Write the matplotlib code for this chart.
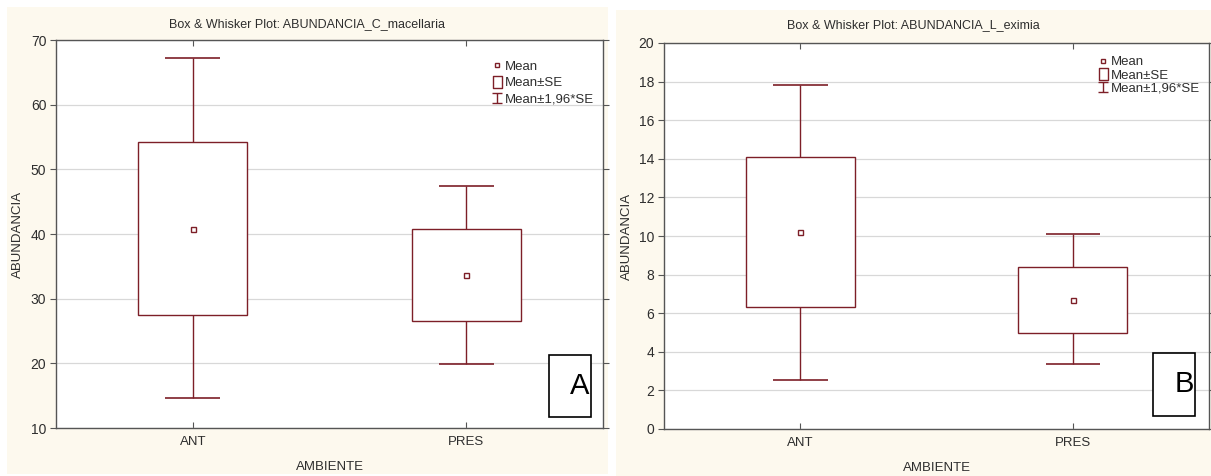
import matplotlib
matplotlib.use("Agg")
import matplotlib.pyplot as plt
from matplotlib.patches import Rectangle
from matplotlib.lines import Line2D
from matplotlib.path import Path
import numpy as np

# ---- data ----
categories = ["ANT", "PRES"]

a_title = "Box & Whisker Plot: ABUNDANCIA_C_macellaria"
a_mean = [40.8, 33.6]
a_se_lo = [27.5, 26.6]
a_se_hi = [54.2, 40.8]
a_ci_lo = [14.6, 19.9]
a_ci_hi = [67.2, 47.4]
a_yticks = [10, 20, 30, 40, 50, 60, 70]

b_title = "Box & Whisker Plot: ABUNDANCIA_L_eximia"
b_mean = [10.2, 6.7]
b_se_lo = [6.3, 5.0]
b_se_hi = [14.1, 8.4]
b_ci_lo = [2.55, 3.35]
b_ci_hi = [17.83, 10.1]
b_yticks = [0, 2, 4, 6, 8, 10, 12, 14, 16, 18, 20]

legend_labels = ["Mean", "Mean\u00b1SE", "Mean\u00b11,96*SE"]
xlabel = "AMBIENTE"
ylabel = "ABUNDANCIA"
panel_letters = ["A", "B"]

# ---- style ----
FONT = ["Liberation Sans", "DejaVu Sans"]
plt.rcParams["font.family"] = FONT
MAROON = "#7d1f28"
CREAM = "#fdf9ee"
SPINE = "#555555"
TXT = "#2e2e2e"

W, H = 1211, 476
fig = plt.figure(figsize=(W / 100, H / 100), dpi=100)
fig.patch.set_facecolor("white")


def fx(px):
    return px / W


def fy(py):
    return 1 - py / H


# panel backgrounds (cream)
fig.patches.append(Rectangle((fx(7), fy(474)), fx(608 - 7), (474 - 7) / H,
                             transform=fig.transFigure, facecolor=CREAM,
                             edgecolor="none", zorder=-10))
fig.patches.append(Rectangle((fx(616), fy(476)), fx(1211 - 616), (476 - 10) / H,
                             transform=fig.transFigure, facecolor=CREAM,
                             edgecolor="none", zorder=-10))

ibeam = Path([(-0.45, 0.5), (0.45, 0.5), (0, 0.5), (0, -0.5), (-0.45, -0.5), (0.45, -0.5)],
             [Path.MOVETO, Path.LINETO, Path.MOVETO, Path.LINETO,
              Path.MOVETO, Path.LINETO])
tallbox = Path([(-0.36, -0.5), (0.36, -0.5), (0.36, 0.5), (-0.36, 0.5), (-0.36, -0.5)],
               [Path.MOVETO, Path.LINETO, Path.LINETO, Path.LINETO, Path.CLOSEPOLY])


def draw_panel(rect, title, title_x, title_y, mean, se_lo, se_hi, ci_lo, ci_hi,
               yticks, letter, letter_box, ylabel_x, legend_y, legend_sp):
    ax = fig.add_axes(rect)
    ax.set_facecolor("white")
    x = np.arange(len(categories))
    se_lo = np.array(se_lo); se_hi = np.array(se_hi)
    ax.bar(x, se_hi - se_lo, bottom=se_lo, width=0.4, facecolor="white",
           edgecolor=MAROON, linewidth=1.0, zorder=3)
    ax.vlines(x, se_hi, ci_hi, color=MAROON, lw=1.0, zorder=3)
    ax.vlines(x, ci_lo, se_lo, color=MAROON, lw=1.0, zorder=3)
    ax.hlines(ci_hi, x - 0.1, x + 0.1, color=MAROON, lw=1.2, zorder=3)
    ax.hlines(ci_lo, x - 0.1, x + 0.1, color=MAROON, lw=1.2, zorder=3)
    ax.plot(x, mean, ls="none", marker="s", ms=3.6, mfc="white", mec=MAROON,
            mew=1.0, zorder=4)

    ax.set_xlim(-0.5, 1.5)
    ax.set_ylim(yticks[0], yticks[-1])
    ax.set_yticks(yticks)
    ax.set_xticks(x)
    ax.set_xticklabels(categories)
    ax.grid(axis="y", color="#d8d8d8", lw=0.9)
    ax.set_axisbelow(True)
    for s in ax.spines.values():
        s.set_color(SPINE)
        s.set_linewidth(1.0)
    ax.tick_params(axis="x", direction="in", top=True, length=4, color=SPINE,
                   labelsize=9.5, labelcolor=TXT, pad=6)
    ax.tick_params(axis="y", direction="out", right=True, length=4, color=SPINE,
                   labelsize=10, labelcolor=TXT, pad=3)

    ax.set_xlabel(xlabel, fontsize=9.5, color=TXT, labelpad=9)
    ax.set_ylabel(ylabel, fontsize=9.5, color=TXT)
    ax.yaxis.set_label_coords(ylabel_x, 0.5)

    fig.text(title_x, title_y, title, ha="center", va="center", fontsize=9,
             color=TXT)

    handles = [
        Line2D([], [], ls="none", marker="s", ms=3.2, mfc="white", mec=MAROON, mew=1.0),
        Line2D([], [], ls="none", marker=tallbox, ms=9, mfc="white", mec=MAROON, mew=1.0),
        Line2D([], [], ls="none", marker=ibeam, ms=7.5, color=MAROON, mew=1.0),
    ]
    ax.legend(handles, legend_labels, loc="upper right",
              bbox_to_anchor=(1.0, legend_y), frameon=False, fontsize=9.5,
              handlelength=0.8, handletextpad=0.15, labelspacing=legend_sp,
              borderaxespad=0.3, labelcolor=TXT)

    bx0, by0, bx1, by1 = letter_box
    ax.add_patch(Rectangle((bx0, by0), bx1 - bx0, by1 - by0,
                           transform=ax.transAxes, facecolor="white",
                           edgecolor="black", lw=1.2, zorder=6))
    ax.text(bx1 - 0.003, (by0 + by1) / 2, letter, transform=ax.transAxes,
            ha="right", va="center", fontsize=21, color="black", zorder=7)
    return ax


axA = draw_panel([fx(56), fy(428), fx(603 - 56), (428 - 40) / H],
                 a_title, fx(307.5), fy(24), a_mean, a_se_lo, a_se_hi,
                 a_ci_lo, a_ci_hi, a_yticks, panel_letters[0],
                 (0.901, 0.028, 0.978, 0.188), -0.0585, 0.97, 0.3)
axB = draw_panel([fx(664), fy(429), fx(1209 - 664), (429 - 43) / H],
                 b_title, fx(913.5), fy(25), b_mean, b_se_lo, b_se_hi,
                 b_ci_lo, b_ci_hi, b_yticks, panel_letters[1],
                 (0.897, 0.034, 0.975, 0.197), -0.057, 0.99, 0.08)

fig.savefig("out.png", dpi=100, facecolor="white")
